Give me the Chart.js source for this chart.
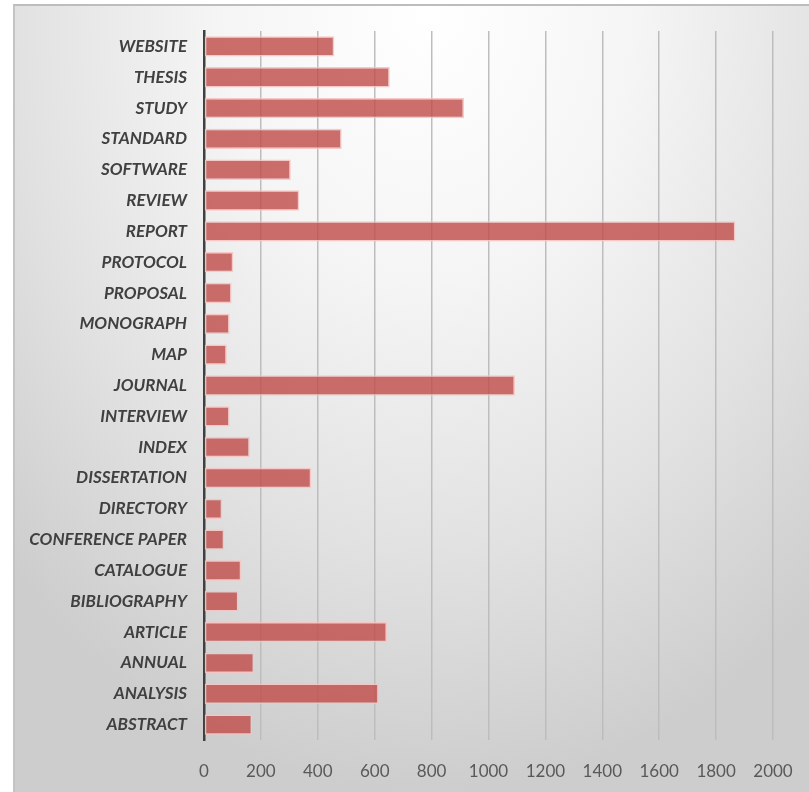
<!DOCTYPE html>
<html>
<head>
<meta charset="utf-8">
<script src="https://cdn.jsdelivr.net/npm/chart.js@4"></script>
<style>
  html, body { margin: 0; padding: 0; background: #fff; overflow: hidden; }
  #frame {
    position: absolute; left: 13px; top: 4px; width: 796px; height: 788px;
    border-top: 2px solid #bdbdbd; border-left: 2px solid #c4c4c4;
    box-sizing: border-box;
    background: radial-gradient(ellipse 75% 100% at 52% 0%, #ffffff 0%, #f5f5f5 35%, #e1e1e1 70%, #cdcdcd 100%);
  }
  #chart-outer { position: absolute; left: 0; top: 0; width: 809px; height: 792px; }
</style>
</head>
<body>
<div id="frame"></div>
<div id="chart-outer"><canvas id="chart-area"></canvas></div>
<script>
// categories top to bottom, as shown in the picture
const categories = ['WEBSITE', 'THESIS', 'STUDY', 'STANDARD', 'SOFTWARE', 'REVIEW', 'REPORT',
  'PROTOCOL', 'PROPOSAL', 'MONOGRAPH', 'MAP', 'JOURNAL', 'INTERVIEW', 'INDEX', 'DISSERTATION',
  'DIRECTORY', 'CONFERENCE PAPER', 'CATALOGUE', 'BIBLIOGRAPHY', 'ARTICLE', 'ANNUAL', 'ANALYSIS', 'ABSTRACT'];
const counts = [458, 653, 914, 484, 305, 335, 1868,
  103, 97, 90, 80, 1093, 90, 161, 377,
  64, 71, 131, 121, 643, 176, 614, 169];
const xTicks = [0, 200, 400, 600, 800, 1000, 1200, 1400, 1600, 1800, 2000];

const chartArea = document.getElementById('chart-area');

const chart = new Chart(chartArea, {
  type: 'bar',
  data: {
    labels: categories,
    datasets: [{
      data: counts,
      backgroundColor: 'rgba(192, 78, 76, 0.82)',
      borderColor: 'rgba(244, 196, 194, 0.9)',
      borderWidth: 1.5,
      borderSkipped: false,
      barPercentage: 0.66,
      categoryPercentage: 1
    }]
  },
  options: {
    indexAxis: 'y',
    responsive: true,
    maintainAspectRatio: false,
    animation: false,
    layout: { padding: { top: 31, right: 36, left: 0, bottom: 0 } },
    plugins: { legend: { display: false }, tooltip: { enabled: false } },
    scales: {
      x: {
        min: 0, max: 2000,
        afterBuildTicks: (scale) => { scale.ticks = xTicks.map(v => ({ value: v })); },
        afterFit: (scale) => { scale.height = 52; scale.paddingLeft = 0; scale.paddingRight = 0; },
        grid: { color: '#bdbdbd', lineWidth: 1.5, tickLength: 0, drawTicks: false },
        border: { display: false },
        ticks: {
          padding: 21,
          maxRotation: 0,
          minRotation: 0,
          autoSkip: false,
          color: '#595959',
          callback: (v) => String(v),
          font: { family: 'Lato, sans-serif', size: 17 }
        }
      },
      y: {
        afterFit: (scale) => { scale.width = 204; scale.paddingTop = 0; scale.paddingBottom = 0; },
        grid: { display: false, drawTicks: false },
        border: { display: true, color: '#404040', width: 2.5 },
        ticks: {
          padding: 17,
          color: '#404040',
          font: { family: 'Lato, sans-serif', size: 17, weight: 'bold', style: 'italic' }
        }
      }
    }
  }
});
</script>
</body>
</html>
